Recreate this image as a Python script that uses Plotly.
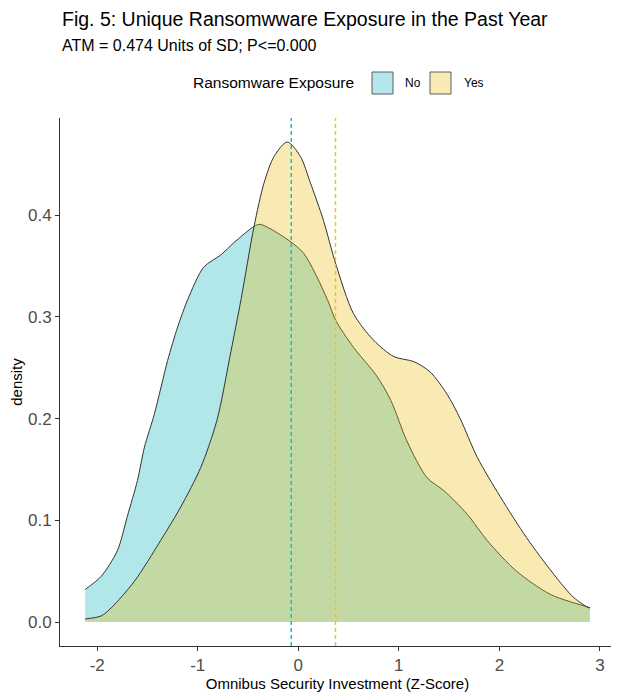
import plotly.graph_objects as go

# ---- data ----
x_no = [-2.12, -1.96, -1.80, -1.70, -1.60, -1.53, -1.43, -1.30, -1.20, -1.10, -0.94, -0.77,
        -0.64, -0.44, -0.38, -0.15, 0.05, 0.29, 0.37, 0.55, 0.78, 0.92, 1.08, 1.28, 1.45,
        1.68, 1.88, 2.17, 2.51, 2.87, 2.90]
y_no = [0.032, 0.045, 0.070, 0.104, 0.139, 0.172, 0.205, 0.257, 0.290, 0.317, 0.349, 0.361,
        0.373, 0.389, 0.391, 0.379, 0.363, 0.317, 0.297, 0.270, 0.242, 0.218, 0.178, 0.142,
        0.129, 0.106, 0.080, 0.050, 0.027, 0.015, 0.014]

x_yes = [-2.12, -1.96, -1.86, -1.63, -1.37, -1.17, -0.97, -0.81, -0.67, -0.57, -0.44, -0.34,
         -0.24, -0.11, 0.02, 0.12, 0.25, 0.37, 0.55, 0.75, 0.95, 1.15, 1.31, 1.48, 1.61,
         1.78, 2.01, 2.27, 2.54, 2.74, 2.89, 2.90]
y_yes = [0.003, 0.006, 0.014, 0.040, 0.080, 0.113, 0.152, 0.198, 0.266, 0.317, 0.389, 0.432,
         0.458, 0.472, 0.458, 0.432, 0.395, 0.353, 0.303, 0.277, 0.261, 0.256, 0.246, 0.224,
         0.200, 0.162, 0.123, 0.083, 0.047, 0.024, 0.014, 0.014]

group_names = ["No", "Yes"]
group_means = [-0.07, 0.37]
x_ticks = [-2, -1, 0, 1, 2, 3]
x_ticklabels = ["-2", "-1", "0", "1", "2", "3"]
y_ticks = [0.0, 0.1, 0.2, 0.3, 0.4]

title_text = "Fig. 5: Unique Ransomwware Exposure in the Past Year"
subtitle_text = "ATM = 0.474 Units of SD; P<=0.000"
legend_title = "Ransomware Exposure"

FONT = "Liberation Sans, Arial, sans-serif"
line_cols = ["#1DB9C4", "#F0C21E"]
fill_cols = ["rgba(0,175,187,0.3)", "rgba(231,184,0,0.3)"]
key_cols = ["#B3E7EB", "#F8EAB3"]

# The page body has an 8px default margin, so the figure is laid out 8px smaller
# and all reference pixel positions are shifted by that offset.
OFF = 8
W, H = 619 - OFF, 694 - OFF
ML, MR, MT, MB = 60 - OFF, 4, 118 - OFF, 48
PW, PH = W - ML - MR, H - MT - MB


def px_x(p):
    return (p - OFF - ML) / PW


def px_y(p):
    return (H - MB - (p - OFF)) / PH


fig = go.Figure()
for xs, ys, fc, nm in [(x_no, y_no, fill_cols[0], group_names[0]),
                       (x_yes, y_yes, fill_cols[1], group_names[1])]:
    fig.add_trace(go.Scatter(x=xs, y=ys, mode="lines", fill="tozeroy", fillcolor=fc, name=nm,
                             line=dict(color="#333333", width=1, shape="spline", smoothing=0.8),
                             showlegend=False, hoverinfo="skip"))

# mean lines
for m, lc in zip(group_means, line_cols):
    fig.add_shape(type="line", x0=m, x1=m, y0=0, y1=1, xref="x", yref="paper",
                  line=dict(color=lc, width=1.5, dash="4px,3px"))

# titles
fig.add_annotation(text=title_text, xref="paper", yref="paper", x=px_x(60), y=px_y(19),
                   xanchor="left", yanchor="middle", showarrow=False,
                   font=dict(family=FONT, size=19.5, color="#000000"))
fig.add_annotation(text=subtitle_text, xref="paper", yref="paper", x=px_x(60), y=px_y(46),
                   xanchor="left", yanchor="middle", showarrow=False,
                   font=dict(family=FONT, size=16, color="#000000"))

# legend (ggplot-style, drawn by hand)
leg_y = 83
fig.add_annotation(text=legend_title, xref="paper", yref="paper", x=px_x(356), y=px_y(leg_y),
                   xanchor="right", yanchor="middle", showarrow=False,
                   font=dict(family=FONT, size=15.5, color="#000000"))
for name, kc, bx, tx in zip(group_names, key_cols, [372, 430], [403, 462]):
    fig.add_shape(type="rect", xref="paper", yref="paper",
                  x0=px_x(bx), x1=px_x(bx + 21), y0=px_y(leg_y + 11), y1=px_y(leg_y - 11),
                  fillcolor=kc, line=dict(color="#5F5F5F", width=1), layer="above")
    fig.add_annotation(text=name, xref="paper", yref="paper", x=px_x(tx), y=px_y(leg_y),
                       xanchor="left", yanchor="middle", showarrow=False,
                       font=dict(family=FONT, size=12, color="#000000"))

fig.update_layout(
    width=W, height=H,
    margin=dict(l=ML, r=MR, t=MT, b=MB),
    paper_bgcolor="white", plot_bgcolor="white",
    font=dict(family=FONT, size=15, color="#000000"),
    showlegend=False,
    xaxis=dict(range=[-2.37, 3.15], tickvals=x_ticks, ticktext=x_ticklabels, showgrid=False,
               zeroline=False, showline=True, linecolor="#333333", linewidth=1,
               ticks="outside", ticklen=4, tickcolor="#333333", automargin=False,
               tickfont=dict(size=17, color="#4D4D4D"),
               title=dict(text="Omnibus Security Investment (Z-Score)", font=dict(size=15),
                          standoff=3)),
    yaxis=dict(range=[-0.0236, 0.4956], tickvals=y_ticks, tickformat=".1f", showgrid=False,
               zeroline=False, showline=True, linecolor="#333333", linewidth=1,
               ticks="outside", ticklen=4, tickcolor="#333333", automargin=False,
               tickfont=dict(size=17, color="#4D4D4D"),
               title=dict(text="density", font=dict(size=15), standoff=4)),
)

fig.write_html("out.html")
